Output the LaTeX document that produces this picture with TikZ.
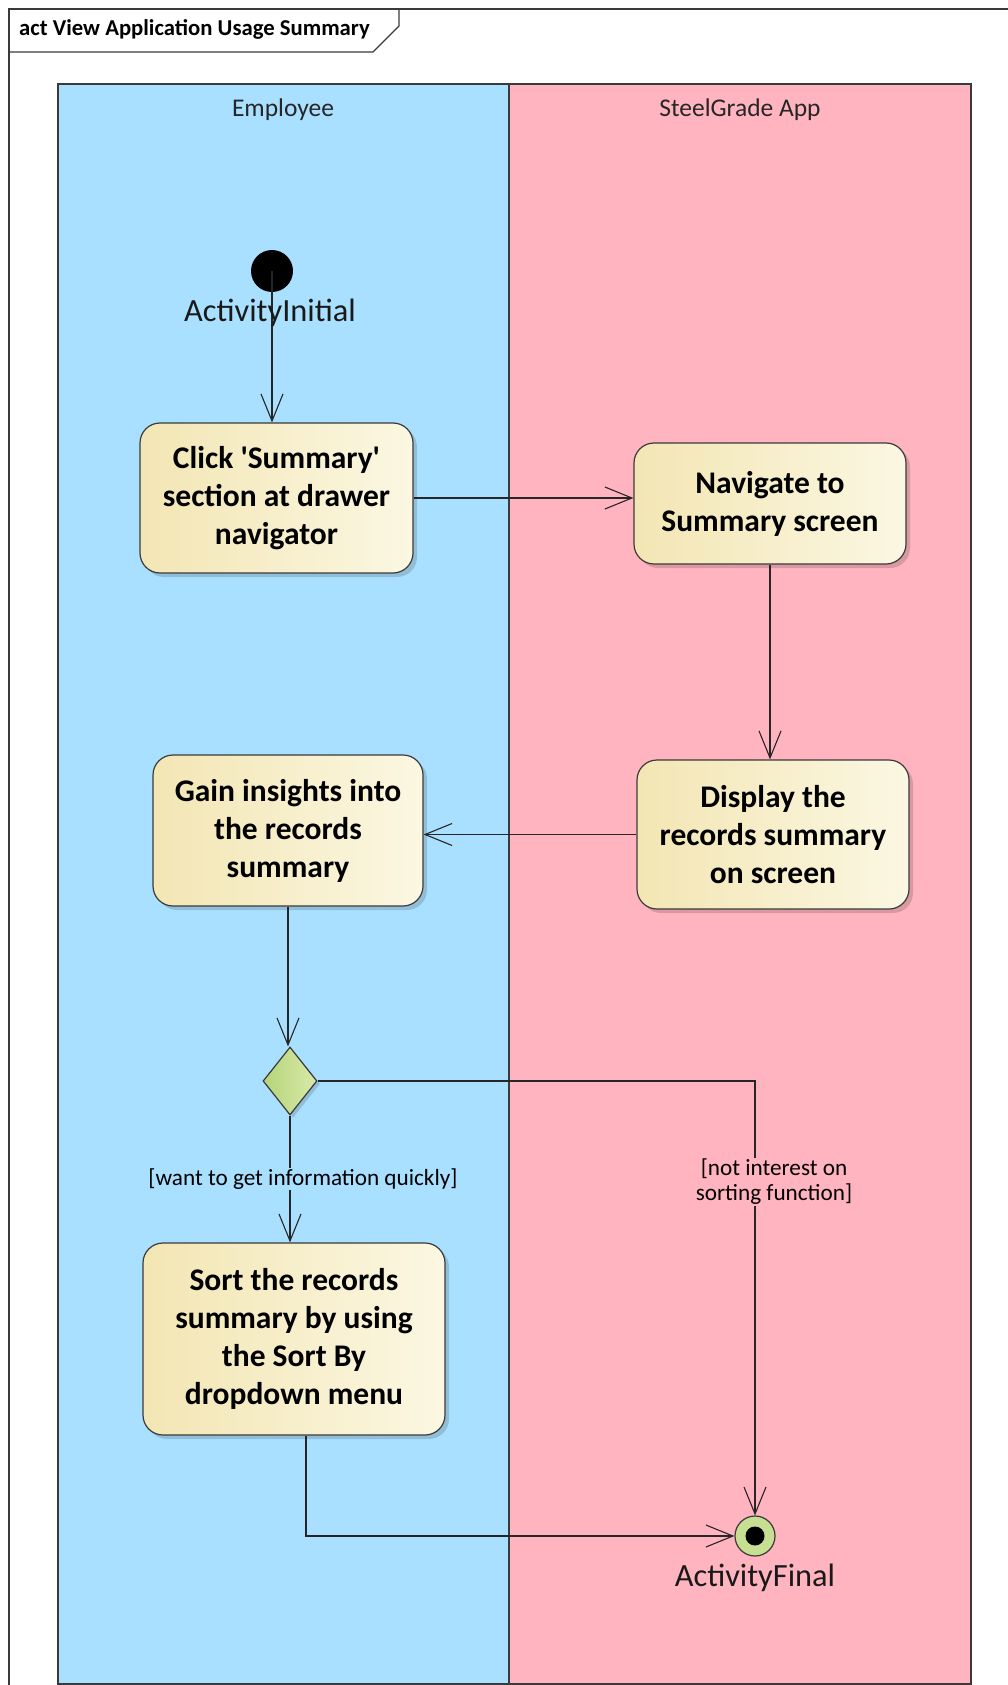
\documentclass[tikz,border=0pt]{standalone}
\usepackage{fontspec}
\setmainfont{Carlito}
\usetikzlibrary{arrows.meta,shapes.geometric,shadows}

\definecolor{laneblue}{HTML}{AAE0FF}
\definecolor{lanepink}{HTML}{FFB4C0}
\definecolor{boxleft}{HTML}{F3E6B4}
\definecolor{boxright}{HTML}{FBF7E2}
\definecolor{decleft}{HTML}{B5D47A}
\definecolor{decright}{HTML}{D8EAA8}
\definecolor{finalfill}{HTML}{C6DF92}
\definecolor{edge}{HTML}{3A3A3A}

\tikzset{
  lane/.style={draw=edge, line width=1.3pt},
  lanehead/.style={font=\fontsize{25.5}{30}\selectfont, text=black!85},
  action/.style={rectangle, rounded corners=20pt, draw=edge, line width=1.2pt,
    left color=boxleft, right color=boxright, align=center, inner sep=0pt,
    font=\fontsize{31.5}{38}\selectfont\bfseries,
    drop shadow={shadow xshift=4pt, shadow yshift=-4pt, fill=black, opacity=0.15}},
  decision/.style={diamond, draw=edge, line width=1.2pt, inner sep=0pt,
    minimum width=54pt, minimum height=68pt, left color=decleft, right color=decright,
    drop shadow={shadow xshift=3pt, shadow yshift=-3pt, fill=black, opacity=0.15}},
  startnode/.style={circle, fill=black, minimum size=42pt, inner sep=0pt},
  endnode/.style={circle, draw=edge, line width=1.2pt, fill=finalfill,
    minimum size=40pt, inner sep=0pt},
  namelabel/.style={font=\fontsize{32.4}{36}\selectfont, text=black!90},
  guard/.style={font=\fontsize{23.2}{25}\selectfont, align=center, inner sep=1pt},
  flow/.style={draw=black!85, line width=1.1pt,
    -{Straight Barb[length=27pt,width=22pt,line width=1.1pt]}},
}

\begin{document}
\begin{tikzpicture}[x=1pt,y=-1pt]
  \clip (0,0) rectangle (1008,1685);

  % diagram frame with its name tab
  \draw[edge, line width=1.5pt] (9,1700) -- (9,9) -- (1020,9);
  \draw[edge, line width=1.3pt] (9,52) -- (373,52) -- (399,26) -- (399,9);
  \node[anchor=west, font=\fontsize{22.7}{26}\selectfont\bfseries, inner sep=0pt]
    (title) at (19,29) {act View Application Usage Summary};

  % swimlanes
  \filldraw[lane, fill=laneblue] (58,84) rectangle (509,1684);
  \filldraw[lane, fill=lanepink] (509,84) rectangle (971,1684);
  \node[lanehead] (empl) at (283,110) {Employee};
  \node[lanehead] (app) at (740,110) {SteelGrade App};

  % nodes
  \node[startnode] (init) at (272,271) {};
  \node[action, minimum width=273pt, minimum height=150pt] (click) at (276.5,498)
    {Click \textquotesingle Summary\textquotesingle\\section at drawer\\navigator};
  \node[action, minimum width=272pt, minimum height=121pt] (nav) at (770,503.5)
    {Navigate to\\Summary screen};
  \node[action, minimum width=272pt, minimum height=149pt] (disp) at (773,834.5)
    {Display the\\records summary\\on screen};
  \node[action, minimum width=270pt, minimum height=151pt] (gain) at (288,830.5)
    {Gain insights into\\the records\\summary};
  \node[decision] (dec) at (290,1081) {};
  \node[action, minimum width=302pt, minimum height=192pt] (sort) at (294,1339)
    {Sort the records\\summary by using\\the Sort By\\dropdown menu};
  \node[endnode] (final) at (755,1536) {};
  \fill[black] (final.center) circle (9.5pt);

  \coordinate (sortout) at ([xshift=12pt]sort.south);

  % control flows
  \draw[flow] (init.center) -- (init.center |- click.north);
  \draw[flow] (click.east) -- (click.east -| nav.west);
  \draw[flow] (nav.south) -- (nav.south |- disp.north);
  \draw[flow] (disp.west) -- (disp.west -| gain.east);
  \draw[flow] (gain.south) -- (gain.south |- dec.north);
  \draw[flow] (dec.south) -- (dec.south |- sort.north);
  \draw[flow] (dec.east) -| (final.north);
  \draw[flow] (sortout) |- (final.west);

  % element names and guards
  \node[namelabel] (initname) at (270,313) {ActivityInitial};
  \node[namelabel] (finalname) at (755,1578) {ActivityFinal};
  \node[guard, fill=laneblue] (g1) at (303,1179) {[want to get information quickly]};
  \node[guard, fill=lanepink] (g2) at (774,1182) {[not interest on\\sorting function]};
\end{tikzpicture}
\end{document}
